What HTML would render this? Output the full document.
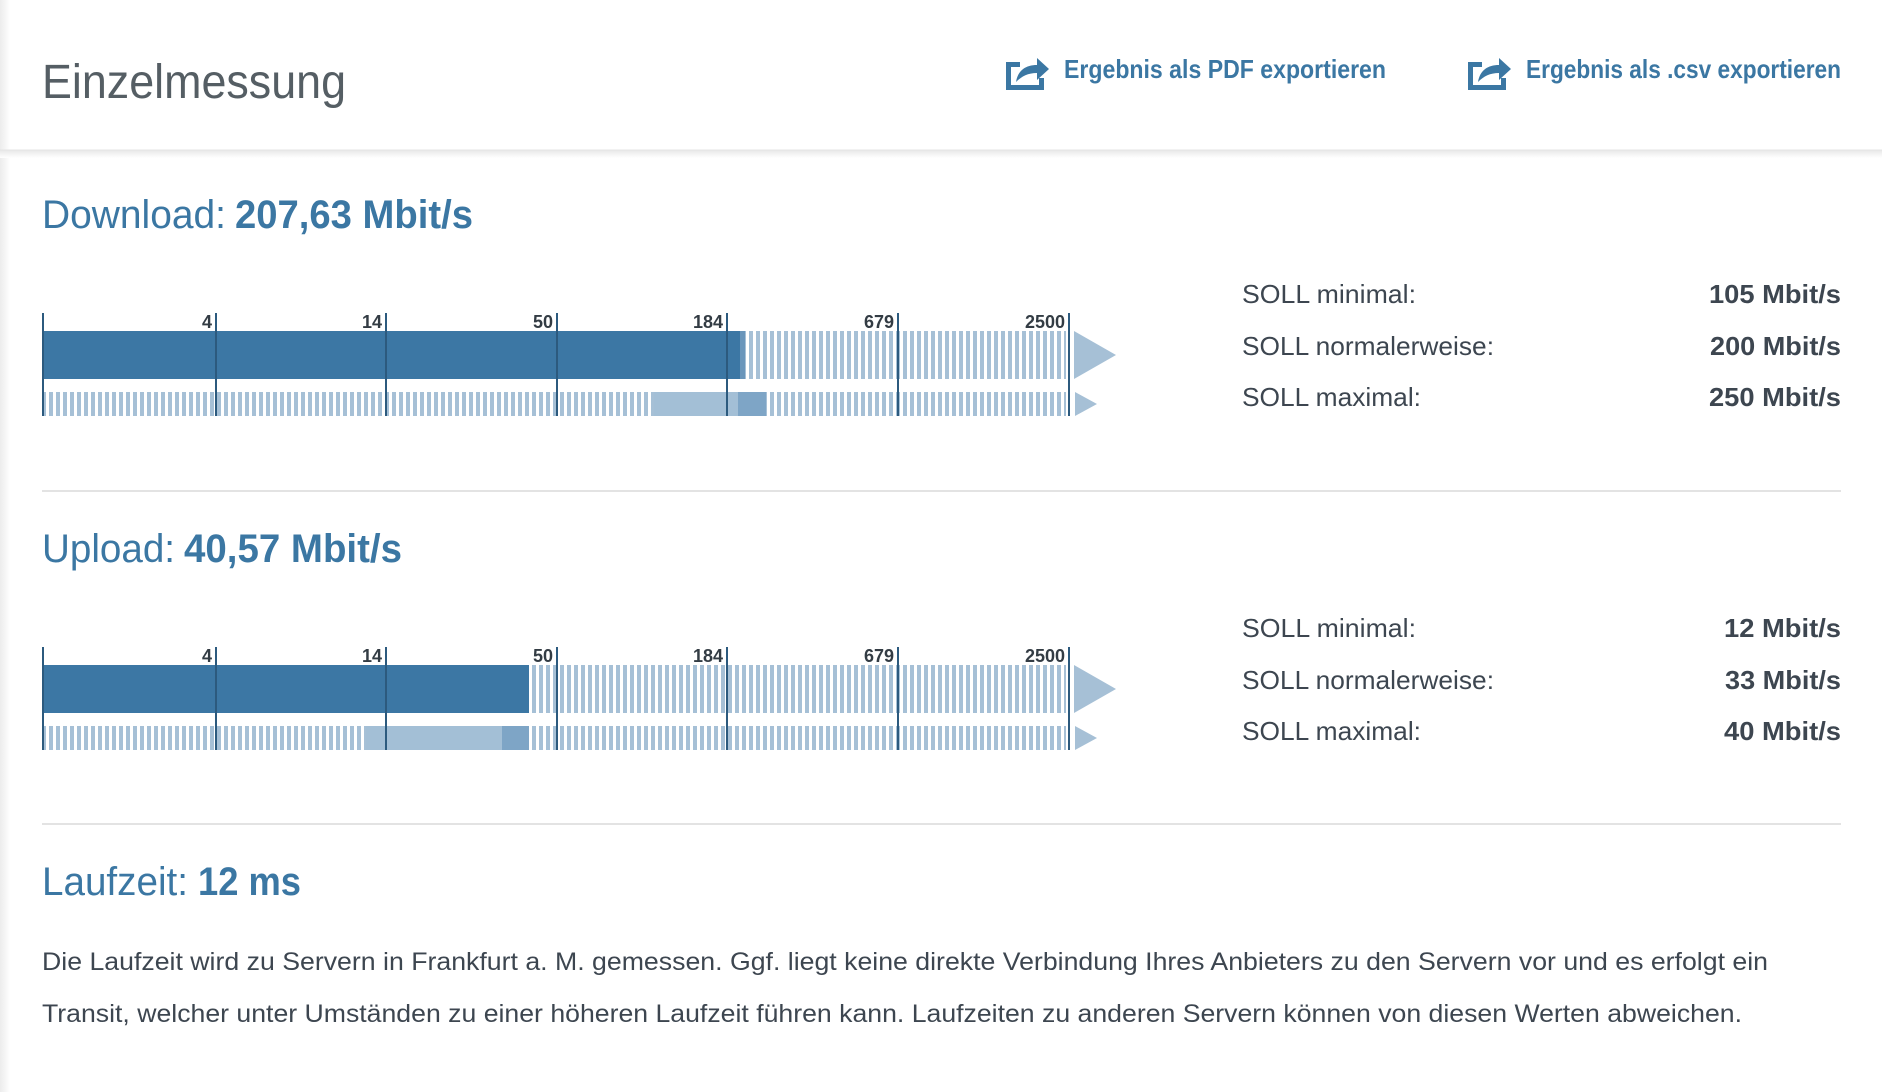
<!DOCTYPE html>
<html><head><meta charset="utf-8"><style>
html,body{margin:0;padding:0;background:#fff;}
svg{display:block;}
text{font-family:"Liberation Sans",sans-serif;}
</style></head><body>
<svg width="1882" height="1092" viewBox="0 0 1882 1092" xmlns="http://www.w3.org/2000/svg">
<defs>
<pattern id="st" width="7" height="10" patternUnits="userSpaceOnUse"><rect x="0" y="0" width="4" height="10" fill="#a6c0d6"/></pattern>
<linearGradient id="lg" x1="0" x2="1"><stop offset="0" stop-color="#ececec"/><stop offset="1" stop-color="#fff"/></linearGradient>
<linearGradient id="sh" x1="0" y1="0" x2="0" y2="1"><stop offset="0" stop-color="#e8e8e8"/><stop offset="1" stop-color="#fff"/></linearGradient>
<g id="ico">
<path d="M4 12 h14 v5 h-9 v18 h28 v-7 h5 v12 h-38 z" fill="#3b77a3"/>
<path d="M14 32 c2 -12 10 -17 21 -17 v-7 l12 11 l-12 11 v-7 c-9 0 -15 3 -21 9 z" fill="#3b77a3"/>
</g>
</defs>
<rect x="0" y="0" width="10" height="1092" fill="url(#lg)"/>
<rect x="0" y="150" width="1882" height="8" fill="url(#sh)"/>
<line x1="0" y1="150" x2="1882" y2="150" stroke="#e4e4e4" stroke-width="1"/>

<text x="42" y="98" font-size="48" fill="#555e64" textLength="304" lengthAdjust="spacingAndGlyphs">Einzelmessung</text>
<use href="#ico" x="1002" y="50"/>
<text x="1064" y="78" font-size="26" font-weight="bold" fill="#3b77a3" textLength="322" lengthAdjust="spacingAndGlyphs">Ergebnis als PDF exportieren</text>
<use href="#ico" x="1464" y="50"/>
<text x="1526" y="78" font-size="26" font-weight="bold" fill="#3b77a3" textLength="315" lengthAdjust="spacingAndGlyphs">Ergebnis als .csv exportieren</text>

<!-- Download -->
<text x="42" y="228" font-size="40" fill="#3b77a3" textLength="184" lengthAdjust="spacingAndGlyphs">Download:</text>
<text x="235" y="228" font-size="40" font-weight="bold" fill="#3b77a3" textLength="238" lengthAdjust="spacingAndGlyphs">207,63 Mbit/s</text>
<g>
<rect x="43" y="331" width="1023" height="48" fill="url(#st)"/>
<rect x="43" y="331" width="697" height="48" fill="#3c77a4"/>
<rect x="740" y="331" width="5" height="48" fill="#6a96bb"/>
<polygon points="1074,331 1116,355 1074,379" fill="#a6c0d6"/>
<rect x="43" y="392" width="1023" height="24" fill="url(#st)"/>
<rect x="654" y="392" width="84" height="24" fill="#a3bfd6"/>
<rect x="738" y="392" width="28" height="24" fill="#7ea5c6"/>
<polygon points="1075,392 1097,404 1075,416" fill="#a6c0d6"/>
<g stroke="#2c5a7e" stroke-width="2">
<line x1="43" y1="313" x2="43" y2="416"/><line x1="216" y1="313" x2="216" y2="416"/><line x1="386" y1="313" x2="386" y2="416"/><line x1="557" y1="313" x2="557" y2="416"/><line x1="727" y1="313" x2="727" y2="416"/><line x1="898" y1="313" x2="898" y2="416"/><line x1="1069" y1="313" x2="1069" y2="416"/>
</g>
<g font-size="18" font-weight="bold" fill="#333c44" text-anchor="end">
<text x="212" y="328">4</text><text x="382" y="328">14</text><text x="553" y="328">50</text><text x="723" y="328">184</text><text x="894" y="328">679</text><text x="1065" y="328">2500</text>
</g>
</g>
<g font-size="26" fill="#3d4650">
<text x="1242" y="303" textLength="174" lengthAdjust="spacingAndGlyphs">SOLL minimal:</text>
<text x="1242" y="355" textLength="252" lengthAdjust="spacingAndGlyphs">SOLL normalerweise:</text>
<text x="1242" y="406" textLength="179" lengthAdjust="spacingAndGlyphs">SOLL maximal:</text>
</g>
<g font-size="26" font-weight="bold" fill="#3d4650">
<text x="1709" y="303" textLength="132" lengthAdjust="spacingAndGlyphs">105 Mbit/s</text>
<text x="1710" y="355" textLength="131" lengthAdjust="spacingAndGlyphs">200 Mbit/s</text>
<text x="1709" y="406" textLength="132" lengthAdjust="spacingAndGlyphs">250 Mbit/s</text>
</g>
<line x1="42" y1="491" x2="1841" y2="491" stroke="#e3e3e3" stroke-width="2"/>

<!-- Upload -->
<text x="42" y="562" font-size="40" fill="#3b77a3" textLength="133" lengthAdjust="spacingAndGlyphs">Upload:</text>
<text x="184" y="562" font-size="40" font-weight="bold" fill="#3b77a3" textLength="218" lengthAdjust="spacingAndGlyphs">40,57 Mbit/s</text>
<g transform="translate(0,334)">
<rect x="43" y="331" width="1023" height="48" fill="url(#st)"/>
<rect x="43" y="331" width="486" height="48" fill="#3c77a4"/>
<polygon points="1074,331 1116,355 1074,379" fill="#a6c0d6"/>
<rect x="43" y="392" width="1023" height="24" fill="url(#st)"/>
<rect x="366" y="392" width="136" height="24" fill="#a3bfd6"/>
<rect x="502" y="392" width="27" height="24" fill="#7ea5c6"/>
<polygon points="1075,392 1097,404 1075,416" fill="#a6c0d6"/>
<g stroke="#2c5a7e" stroke-width="2">
<line x1="43" y1="313" x2="43" y2="416"/><line x1="216" y1="313" x2="216" y2="416"/><line x1="386" y1="313" x2="386" y2="416"/><line x1="557" y1="313" x2="557" y2="416"/><line x1="727" y1="313" x2="727" y2="416"/><line x1="898" y1="313" x2="898" y2="416"/><line x1="1069" y1="313" x2="1069" y2="416"/>
</g>
<g font-size="18" font-weight="bold" fill="#333c44" text-anchor="end">
<text x="212" y="328">4</text><text x="382" y="328">14</text><text x="553" y="328">50</text><text x="723" y="328">184</text><text x="894" y="328">679</text><text x="1065" y="328">2500</text>
</g>
</g>
<g font-size="26" fill="#3d4650">
<text x="1242" y="637" textLength="174" lengthAdjust="spacingAndGlyphs">SOLL minimal:</text>
<text x="1242" y="689" textLength="252" lengthAdjust="spacingAndGlyphs">SOLL normalerweise:</text>
<text x="1242" y="740" textLength="179" lengthAdjust="spacingAndGlyphs">SOLL maximal:</text>
</g>
<g font-size="26" font-weight="bold" fill="#3d4650">
<text x="1724" y="637" textLength="117" lengthAdjust="spacingAndGlyphs">12 Mbit/s</text>
<text x="1725" y="689" textLength="116" lengthAdjust="spacingAndGlyphs">33 Mbit/s</text>
<text x="1724" y="740" textLength="117" lengthAdjust="spacingAndGlyphs">40 Mbit/s</text>
</g>
<line x1="42" y1="824" x2="1841" y2="824" stroke="#e3e3e3" stroke-width="2"/>

<!-- Laufzeit -->
<text x="42" y="895" font-size="40" fill="#3b77a3" textLength="146" lengthAdjust="spacingAndGlyphs">Laufzeit:</text>
<text x="198" y="895" font-size="40" font-weight="bold" fill="#3b77a3" textLength="103" lengthAdjust="spacingAndGlyphs">12 ms</text>
<text x="42" y="970" font-size="25" fill="#3d4650" textLength="1726" lengthAdjust="spacingAndGlyphs">Die Laufzeit wird zu Servern in Frankfurt a. M. gemessen. Ggf. liegt keine direkte Verbindung Ihres Anbieters zu den Servern vor und es erfolgt ein</text>
<text x="42" y="1022" font-size="25" fill="#3d4650" textLength="1700" lengthAdjust="spacingAndGlyphs">Transit, welcher unter Umständen zu einer höheren Laufzeit führen kann. Laufzeiten zu anderen Servern können von diesen Werten abweichen.</text>
</svg>
</body></html>
